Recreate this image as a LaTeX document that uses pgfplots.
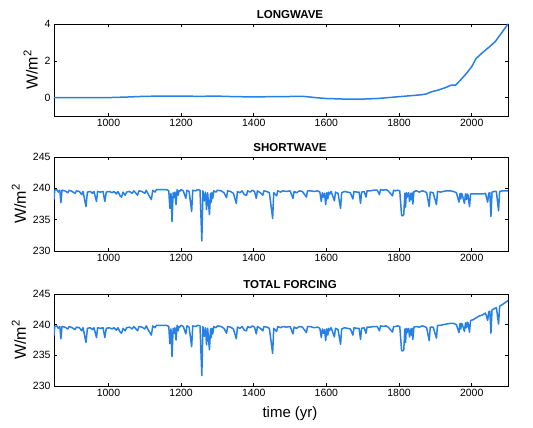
\documentclass[border=0pt]{standalone}
\usepackage{pgfplots}
\pgfplotsset{compat=1.18}
\usepackage{pgfplotstable}
\usepackage{fontspec}
\setmainfont{Liberation Sans}

\definecolor{forcing}{RGB}{38,128,230}

% Longwave forcing anomaly (W/m^2)
\pgfplotstableread{
year lw
850 0.0
900 0.0
950 0.0
1000 0.0
1050 0.03
1100 0.07
1150 0.08
1200 0.08
1250 0.07
1300 0.08
1350 0.05
1400 0.04
1450 0.05
1500 0.06
1540 0.06
1570 0.0
1600 -0.05
1650 -0.08
1700 -0.08
1740 -0.05
1770 0.0
1800 0.05
1830 0.1
1860 0.15
1875 0.2
1890 0.32
1910 0.42
1930 0.56
1942 0.67
1956 0.68
1970 0.97
1985 1.3
2000 1.68
2012 2.12
2030 2.45
2050 2.78
2065 3.05
2080 3.45
2100 4.0
}\lwtable

% Shortwave forcing (W/m^2), volcanic dips
\pgfplotstableread{
year sw
850 238.3
852 239.7
858 239.8
862 239.4
866 239.7
869 237.7
872 239.7
880 239.6
888 239.3
892 239.7
900 239.5
908 239.2
912 239.6
920 239.5
926 239.0
930 239.5
938 237.1
942 239.4
950 239.5
956 239.2
960 239.5
967 237.9
970 239.5
978 239.4
985 239.5
990 237.9
994 239.4
1002 239.5
1010 239.3
1015 239.5
1022 239.1
1026 239.5
1032 238.8
1036 238.6
1040 239.4
1046 238.9
1050 239.4
1058 239.5
1065 239.2
1070 239.6
1080 238.9
1084 239.6
1092 239.5
1100 239.2
1104 239.7
1110 239.0
1114 238.6
1118 238.2
1122 239.7
1128 239.4
1132 239.8
1140 239.8
1150 239.8
1160 239.8
1166 239.6
1169 236.8
1172 239.2
1175 234.7
1178 239.3
1181 238.5
1183 239.4
1186 237.4
1189 239.8
1192 238.9
1194 239.6
1196 239.5
1200 239.8
1206 239.6
1213 238.4
1216 239.7
1222 239.5
1229 236.3
1232 239.7
1240 239.6
1246 239.8
1252 239.7
1257 231.6
1260 239.6
1264 238.0
1267 239.4
1270 236.6
1273 239.3
1278 235.8
1281 239.2
1283 237.8
1285 239.3
1287 238.4
1290 239.6
1296 239.4
1300 239.7
1310 239.6
1318 239.3
1325 238.5
1328 239.6
1336 239.5
1344 239.2
1352 237.6
1355 239.5
1362 239.3
1368 239.6
1374 239.0
1380 238.9
1383 239.6
1390 239.4
1396 239.7
1402 239.5
1407 238.4
1410 239.6
1418 239.3
1425 238.9
1428 239.6
1436 239.5
1443 239.3
1452 235.2
1455 239.3
1463 238.8
1466 239.6
1474 239.4
1480 239.6
1490 239.5
1500 239.6
1508 238.4
1511 239.5
1518 239.3
1526 239.6
1534 239.5
1545 238.6
1548 239.6
1556 239.6
1566 239.5
1576 239.6
1582 239.4
1586 237.9
1589 239.3
1592 238.6
1595 239.2
1598 237.4
1601 239.3
1604 238.3
1606 239.4
1608 239.0
1613 239.5
1622 238.0
1625 239.4
1632 239.2
1639 236.8
1642 239.3
1650 239.5
1658 239.4
1666 239.3
1673 238.3
1676 239.5
1684 239.4
1690 239.4
1694 237.6
1697 239.4
1704 239.5
1709 238.6
1712 239.6
1720 239.6
1730 239.7
1740 239.7
1746 239.0
1749 239.8
1756 239.7
1764 239.8
1770 239.6
1776 239.2
1782 238.8
1785 239.7
1790 239.6
1796 239.7
1802 239.6
1807 235.7
1810 235.6
1813 235.8
1816 239.2
1818 237.0
1820 239.3
1822 238.6
1826 239.3
1829 237.9
1832 239.2
1834 238.2
1836 239.3
1838 237.5
1841 239.5
1848 239.6
1856 239.4
1864 239.6
1870 239.5
1876 239.3
1883 237.1
1886 239.4
1894 239.3
1903 237.4
1906 239.5
1914 239.4
1922 239.5
1930 239.6
1940 239.6
1950 239.5
1958 239.3
1965 237.8
1968 239.2
1970 238.3
1972 239.2
1974 239.0
1980 237.6
1983 239.1
1986 238.2
1988 239.1
1990 238.9
1994 237.1
1997 239.1
2004 239.1
2012 239.1
2020 239.1
2030 239.1
2038 239.2
2044 237.8
2047 239.2
2050 239.3
2053 235.5
2056 239.4
2062 239.5
2068 239.5
2074 236.4
2077 239.5
2085 239.6
2092 239.6
2100 239.6
}\swtable

% Total forcing (W/m^2)
\pgfplotstableread{
year tot
850 238.3
852 239.7
858 239.8
862 239.4
866 239.7
869 237.7
872 239.7
880 239.6
888 239.3
892 239.7
900 239.5
908 239.2
912 239.6
920 239.5
926 239.0
930 239.5
938 237.1
942 239.4
950 239.5
956 239.2
960 239.5
967 237.9
970 239.5
978 239.4
985 239.5
990 237.9
994 239.4
1002 239.5
1010 239.3
1015 239.5
1022 239.1
1026 239.5
1032 238.8
1036 238.6
1040 239.4
1046 239.0
1050 239.5
1058 239.6
1065 239.3
1070 239.7
1080 239.0
1084 239.7
1092 239.6
1100 239.3
1104 239.8
1110 239.1
1114 238.7
1118 238.3
1122 239.8
1128 239.5
1132 239.9
1140 239.9
1150 239.9
1160 239.9
1166 239.7
1169 236.9
1172 239.3
1175 234.8
1178 239.4
1181 238.6
1183 239.5
1186 237.5
1189 239.9
1192 239.0
1194 239.7
1196 239.6
1200 239.9
1206 239.7
1213 238.5
1216 239.8
1222 239.6
1229 236.4
1232 239.8
1240 239.7
1246 239.9
1252 239.8
1257 231.7
1260 239.7
1264 238.1
1267 239.5
1270 236.7
1273 239.4
1278 235.9
1281 239.3
1283 237.9
1285 239.4
1287 238.5
1290 239.7
1296 239.5
1300 239.8
1310 239.7
1318 239.4
1325 238.6
1328 239.7
1336 239.6
1344 239.3
1352 237.7
1355 239.6
1362 239.4
1368 239.7
1374 239.1
1380 239.0
1383 239.7
1390 239.5
1396 239.8
1402 239.6
1407 238.5
1410 239.7
1418 239.4
1425 239.0
1428 239.7
1436 239.6
1443 239.4
1452 235.3
1455 239.4
1463 238.9
1466 239.7
1474 239.5
1480 239.7
1490 239.6
1500 239.7
1508 238.5
1511 239.6
1518 239.4
1526 239.7
1534 239.6
1545 238.7
1548 239.7
1556 239.7
1566 239.5
1576 239.6
1582 239.4
1586 237.9
1589 239.3
1592 238.6
1595 239.2
1598 237.4
1601 239.3
1604 238.3
1606 239.4
1608 239.0
1613 239.5
1622 238.0
1625 239.4
1632 239.2
1639 236.8
1642 239.3
1650 239.5
1658 239.4
1666 239.3
1673 238.3
1676 239.5
1684 239.4
1690 239.4
1694 237.6
1697 239.4
1704 239.5
1709 238.6
1712 239.6
1720 239.6
1730 239.7
1740 239.7
1746 239.0
1749 239.8
1756 239.7
1764 239.8
1770 239.6
1776 239.2
1782 238.8
1785 239.7
1790 239.7
1796 239.8
1802 239.7
1807 235.8
1810 235.7
1813 235.9
1816 239.3
1818 237.1
1820 239.4
1822 238.7
1826 239.4
1829 238.0
1832 239.3
1834 238.3
1836 239.4
1838 237.6
1841 239.6
1848 239.7
1856 239.6
1864 239.8
1870 239.7
1876 239.5
1883 237.4
1886 239.6
1894 239.6
1903 237.8
1906 239.9
1914 239.9
1922 240.0
1930 240.1
1940 240.2
1950 240.2
1958 240.0
1965 238.7
1968 240.2
1970 239.3
1972 240.2
1974 240.1
1980 238.9
1983 240.3
1986 239.5
1988 240.4
1990 240.3
1994 238.8
1997 240.7
2004 240.8
2012 241.1
2020 241.4
2030 241.6
2038 241.9
2044 240.7
2047 242.1
2050 242.2
2053 238.6
2056 242.4
2062 242.6
2068 242.8
2074 240.1
2077 243.0
2085 243.3
2092 243.6
2100 243.9
}\tottable

\pgfplotsset{
  forcingaxis/.style={
    scale only axis,
    width=454pt,
    xmin=850, xmax=2100,
    xtick={1000,1200,...,2000},
    /pgf/number format/1000 sep={},
    /pgf/number format/assume math mode=true,
    tick label style={font=\fontsize{10.5}{12}\selectfont},
    major tick length=3pt,
    tick style={black, line width=0.6pt},
    axis line style={black, line width=0.8pt},
    title style={font=\bfseries\fontsize{11.5}{13}\selectfont, xshift=9pt, yshift=-4pt},
    ylabel={W/m\textsuperscript{2}},
    ylabel style={font=\fontsize{16}{18}\selectfont},
  },
  forcingline/.style={color=forcing, line width=1.5pt, line join=round, line cap=round, mark=none},
}

\begin{document}
\begin{tikzpicture}
\useasboundingbox (0pt,0pt) rectangle (533pt,-428pt);

\begin{axis}[forcingaxis, at={(54pt,-24pt)}, anchor=north west, height=92pt,
  title={LONGWAVE}, ymin=-1, ymax=4, ytick={0,2,4}]
  \addplot[forcingline] table[x=year, y=lw] {\lwtable};
\end{axis}

\begin{axis}[forcingaxis, at={(54pt,-157pt)}, anchor=north west, height=94pt,
  title={SHORTWAVE}, ymin=230, ymax=245, ytick={230,235,240,245}]
  \addplot[forcingline] table[x=year, y=sw] {\swtable};
\end{axis}

\begin{axis}[forcingaxis, at={(54pt,-294pt)}, anchor=north west, height=92pt,
  title={TOTAL FORCING}, ymin=230, ymax=245, ytick={230,235,240,245},
  xlabel={time (yr)},
  xlabel style={font=\fontsize{15}{17}\selectfont, xshift=9pt, yshift=-3pt}]
  \addplot[forcingline] table[x=year, y=tot] {\tottable};
\end{axis}
\end{tikzpicture}
\end{document}
